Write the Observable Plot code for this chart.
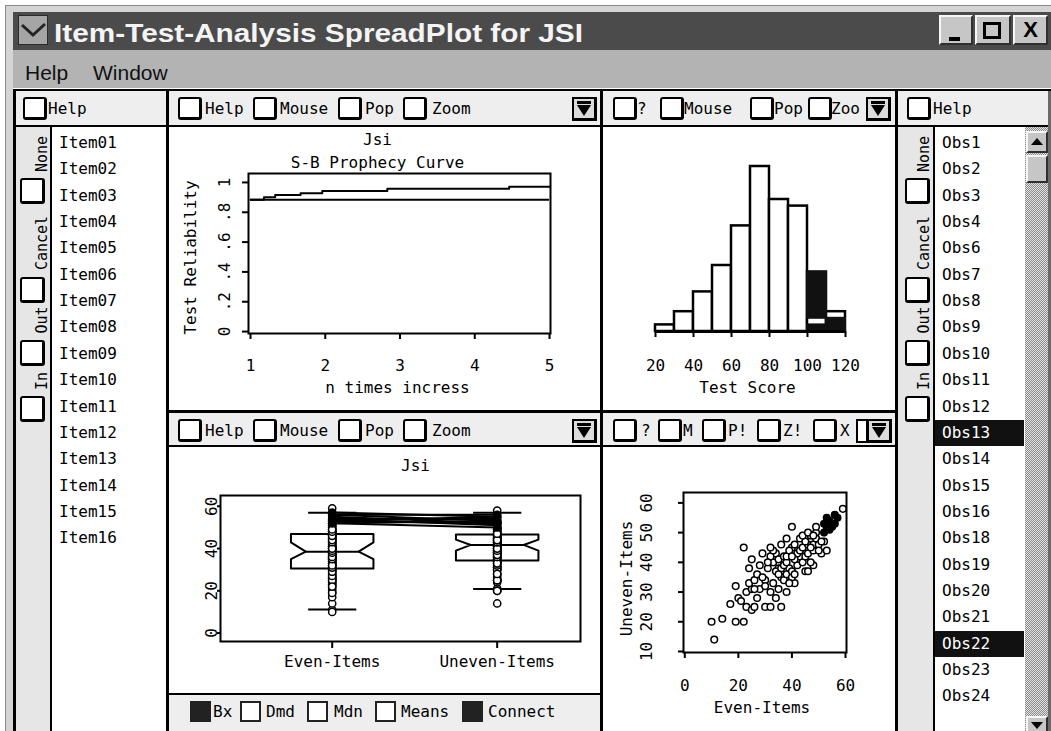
<!DOCTYPE html>
<html><head><meta charset="utf-8">
<script src="https://cdn.jsdelivr.net/npm/d3@7"></script>
<script src="https://cdn.jsdelivr.net/npm/@observablehq/plot@0.6"></script>
<style>
html,body{margin:0;padding:0;}
body{width:1051px;height:731px;overflow:hidden;background:#fff;position:relative;}
#root{position:absolute;left:0;top:0;width:1051px;height:731px;overflow:hidden;}
#root div{box-sizing:border-box;}
</style></head>
<body><div id="root"></div>
<script>
// ---------------- data ----------------
const windowTitle = "Item-Test-Analysis SpreadPlot for JSI";
const menuItems = ["Help", "Window"];
const itemNames = ["Item01","Item02","Item03","Item04","Item05","Item06","Item07","Item08",
  "Item09","Item10","Item11","Item12","Item13","Item14","Item15","Item16"];
const obsNames = ["Obs1","Obs2","Obs3","Obs4","Obs6","Obs7","Obs8","Obs9","Obs10","Obs11","Obs12",
  "Obs13","Obs14","Obs15","Obs16","Obs18","Obs19","Obs20","Obs21","Obs22","Obs23","Obs24"];
const highlightedObs = ["Obs13", "Obs22"];
const stripLabels = ["None", "Cancel", "Out", "In"];
const toolbarTopLeft = ["Help", "Mouse", "Pop", "Zoom"];
const toolbarTopRight = ["?", "Mouse", "Pop", "Zoo"];
const toolbarBottomRight = ["?", "M", "P!", "Z!", "X"];
const boxOptions = ["Bx", "Dmd", "Mdn", "Means", "Connect"];
const boxOptionsOn = [true, false, false, false, true];

const plotTitle = "Jsi";
// Spearman-Brown prophecy curve
const sbSubtitle = "S-B Prophecy Curve";
const sbXLabel = "n times incress";
const sbYLabel = "Test Reliability";
const sbN = [1, 1.18, 1.33, 1.67, 1.96, 2.83, 4.46, 5];
const sbReliability = [0.884, 0.901, 0.915, 0.928, 0.942, 0.957, 0.971, 0.971];
const sbOriginal = 0.884;
const sbXTicks = [1, 2, 3, 4, 5];
const sbYTicks = [0, 0.2, 0.4, 0.6, 0.8, 1];
const sbYTickLabels = ["0", ".2", ".4", ".6", ".8", "1"];

// Histogram of test scores
const histXLabel = "Test Score";
const histBinStart = [20, 30, 40, 50, 60, 70, 80, 90, 100, 110];
const histBinWidth = 10;
const histCounts = [1, 3, 6, 10, 16, 25, 20, 19, 9, 3];
const histSelBin = [100, 100, 110];   // selected (black) pieces
const histSelFrom = [0, 2, 0];
const histSelTo = [1, 9, 2];
const histXTicks = [20, 40, 60, 80, 100, 120];

// Box plot summary
const boxGroups = ["Even-Items", "Uneven-Items"];
const boxQ1 = [30.6, 34.3];
const boxNotchLo = [35.0, 39.0];
const boxMedian = [38.5, 41.7];
const boxNotchHi = [42.9, 44.2];
const boxQ3 = [46.9, 46.6];
const boxWhiskerLo = [11.2, 20.8];
const boxWhiskerHi = [56.9, 56.9];
const boxYTicks = [0, 20, 40, 60];

// Observations: even-items score vs uneven-items score
const evenItems = [
  11,10,14,19,22,17,20,21,23,25,
  19,26,23,27,25,30,32,28,24,26,
  36,26,30,24,25,22,33,35,38,28,
  31,27,29,32,34,30,29,33,34,36,
  35,36,37,41,39,32,31,34,36,38,
  40,33,35,37,39,40,41,32,35,37,
  38,38,36,42,43,42,40,45,46,48,
  38,41,44,39,40,43,45,47,44,41,
  46,40,43,46,47,48,51,53,52,48,
  49,49,45,47,50,44,46,48,50,51,
  49,52,54,53,55,54,52,53,56,56,
  57,59];
const unevenItems = [
  14,20,21,20,20,26,28,27,25,24,
  32,25,30,28,31,25,25,31,33,31,
  25,34,34,38,41,45,33,31,30,39,
  38,36,35,30,28,32,43,40,43,35,
  38,41,34,33,38,42,40,37,38,36,
  35,44,41,39,33,37,36,45,36,42,
  40,42,46,39,42,43,45,37,37,39,
  48,41,40,44,42,44,42,40,45,46,
  43,52,48,46,49,44,43,44,47,46,
  50,48,47,45,46,49,50,49,44,47,
  52,53,54,52,52,51,50,55,53,56,
  55,58];
const selectedIndex = [101,102,103,104,105,106,107,108,109,110];
const scXLabel = "Even-Items";
const scYLabel = "Uneven-Items";
const scXTicks = [0, 20, 40, 60];
const scYTicks = [10, 20, 30, 40, 50, 60];

// ---------------- helpers ----------------
const root = document.getElementById("root");
const MONO = `"DejaVu Sans Mono", monospace`;
function el(x, y, w, h, css, text, parent) {
  const d = document.createElement("div");
  let s = `position:absolute;left:${x}px;top:${y}px;`;
  if (w != null) s += `width:${w}px;`;
  if (h != null) s += `height:${h}px;`;
  d.style.cssText = s + (css || "");
  if (text != null) d.textContent = text;
  (parent || root).appendChild(d);
  return d;
}
function label(x, cy, s, size = 16, css = "") {
  return el(x, cy - 11, null, 22, `line-height:22px;white-space:nowrap;font-family:${MONO};font-size:${size}px;color:#000;${css}`, s);
}
function vlabel(cx, cy, s, size = 15) {
  return el(cx - 60, cy - 10, 120, 20, `line-height:20px;text-align:center;white-space:nowrap;font-family:${MONO};font-size:${size}px;color:#000;transform:rotate(-90deg);`, s);
}
function check(x, y, w = 24, h = 23, fill = "#fff") {
  return el(x, y, w, h, `background:${fill};border:2px solid #000;border-right-width:3px;border-bottom-width:3px;border-radius:3px;`);
}
function dropdown(x, y, w = 25, h = 24) {
  const d = el(x, y, w, h, "background:#dcdcdc;border:2px solid #000;border-right-width:3px;border-bottom-width:3px;");
  el(3, 2, 14, 3, "background:#000;", null, d);
  el(3, 6, 0, 0, "border-left:7px solid transparent;border-right:7px solid transparent;border-top:11px solid #000;", null, d);
  return d;
}
function bevel(x, y, w, h, extra = "") {
  return el(x, y, w, h, "background:#c6c6c6;border-top:2px solid #f6f6f6;border-left:2px solid #f6f6f6;border-right:2px solid #303030;border-bottom:2px solid #303030;" + extra);
}
function rectFill(x, y, w, h, c = "#000") { return el(x, y, w, h, `background:${c}`); }

// ---------------- window chrome ----------------
rectFill(5, 5, 1046, 726, "#d4d4d4");
el(5, 5, 1046, 726, "border-left:1px solid #8a8a8a;border-top:1px solid #8a8a8a;");
rectFill(13, 12, 1038, 38, "#4b4b4b");
const icon = el(18, 15, 30, 30, "background:#a5a5a5;border:1px solid #2a2a2a;");
icon.innerHTML = '<svg width="28" height="28" style="position:absolute;left:0;top:0"><polyline points="3,9 14,19 26,8" fill="none" stroke="#232323" stroke-width="3"/></svg>';
const tt = el(54, 12, 560, 38, "");
tt.innerHTML = '<svg width="560" height="38" style="position:absolute;left:0;top:0"><text x="0" y="30" font-family="Liberation Sans Narrow, Liberation Sans, Arial, sans-serif" font-weight="bold" font-size="26" fill="#f4f4f4" textLength="529" lengthAdjust="spacingAndGlyphs"></text></svg>';
tt.querySelector("text").textContent = windowTitle;
// window buttons
const b1 = bevel(939, 15, 34, 30); el(8, 20, 11, 4, "background:#000", null, b1);
const b2 = bevel(975, 15, 36, 30); el(6, 5, 18, 17, "border:3px solid #000;", null, b2);
const b3 = bevel(1013, 15, 35, 30);
el(0, 0, 31, 26, 'text-align:center;line-height:26px;font:bold 22px "Liberation Sans",Arial,sans-serif;color:#000;', "X", b3);
// menu bar
rectFill(13, 50, 1038, 38, "#b3b3b3");
const mb = el(13, 50, 400, 38, "");
mb.innerHTML = '<svg width="400" height="38" style="position:absolute;left:0;top:0"></svg>';
const mbSvg = mb.querySelector("svg");
const menuX = [12, 80];
menuItems.forEach((m, i) => {
  const t = document.createElementNS("http://www.w3.org/2000/svg", "text");
  t.setAttribute("x", menuX[i]); t.setAttribute("y", 30);
  t.setAttribute("font-family", "Liberation Sans, Arial, sans-serif");
  t.setAttribute("font-size", "21"); t.setAttribute("fill", "#111");
  t.textContent = m; mbSvg.appendChild(t);
});

// panel area
rectFill(13, 88, 1038, 643, "#fff");
rectFill(13, 89, 1038, 2);          // top line
rectFill(13, 89, 3, 642);           // left border
// header bars
rectFill(16, 91, 150, 34, "#eeeeee");
rectFill(169, 91, 431, 34, "#eeeeee");
rectFill(603, 91, 292, 34, "#eeeeee");
rectFill(898, 91, 153, 34, "#eeeeee");
rectFill(13, 125, 1038, 2);
// strips
rectFill(16, 127, 34, 604, "#e6e6e6");
rectFill(50, 127, 2, 604);
rectFill(898, 127, 35, 604, "#e6e6e6");
rectFill(933, 127, 2, 604);
// dividers
rectFill(166, 89, 3, 642);
rectFill(600, 89, 3, 642);
rectFill(895, 89, 3, 642);
// bottom headers
rectFill(169, 412, 726, 34, "#eeeeee");
rectFill(166, 410, 732, 3);
rectFill(166, 445, 732, 2);
rectFill(600, 410, 3, 321);
// box options bar
rectFill(169, 695, 431, 36, "#eeeeee");
rectFill(166, 693, 434, 2);
// scrollbar
el(1025, 127, 23, 604, "background:repeating-conic-gradient(#8c8c8c 0% 25%, #e2e2e2 0% 50%) 0 0/2px 2px;");
rectFill(1048, 91, 3, 640, "#6a6a6a");
const up = bevel(1026, 131, 22, 22);
el(3, 5, 0, 0, "border-left:6px solid transparent;border-right:6px solid transparent;border-bottom:7px solid #000;", null, up);
bevel(1026, 155, 22, 28);
const dn = bevel(1026, 716, 22, 20);
el(3, 4, 0, 0, "border-left:6px solid transparent;border-right:6px solid transparent;border-top:7px solid #000;", null, dn);

// panel header checkboxes
check(23, 97); label(48, 109, "Help");
check(907, 97); label(933, 109, "Help");
const tlCb = [178, 253, 338, 403], tlLb = [205, 280, 365, 432];
toolbarTopLeft.forEach((t, i) => { check(tlCb[i], 97); label(tlLb[i], 109, t); });
dropdown(572, 97);
toolbarTopLeft.forEach((t, i) => { check(tlCb[i], 419); label(tlLb[i], 431, t); });
dropdown(572, 419);
const trCb = [613, 660, 750, 808], trLb = [637, 684, 774, 831];
toolbarTopRight.forEach((t, i) => { check(trCb[i], 97); label(trLb[i], 109, t); });
dropdown(866, 97);
const brCb = [613, 658, 702, 757, 813], brLb = [641, 683, 728, 783, 840];
toolbarBottomRight.forEach((t, i) => { check(brCb[i], 419); label(brLb[i], 431, t); });
el(856, 419, 12, 24, "background:#fff;border:2px solid #000;");
dropdown(867, 419);

// strips: rotated labels + checkboxes
const stripLabelCY = [154, 243, 320, 381];
const stripCheckY = [178, 277, 340, 396];
stripLabels.forEach((s, i) => {
  vlabel(42, stripLabelCY[i], s); check(20, stripCheckY[i], 25, 26);
  vlabel(924, stripLabelCY[i], s); check(905, stripCheckY[i], 25, 26);
});

// lists
const rowStep = 26.35, rowTop = 143;
itemNames.forEach((s, i) => label(59, rowTop + rowStep * i, s));
obsNames.forEach((s, i) => {
  const cy = rowTop + rowStep * i;
  if (highlightedObs.includes(s)) {
    rectFill(935, Math.round(cy - 13), 89, 26, "#111");
    label(942, cy, s, 16, "color:#fff;");
  } else label(942, cy, s);
});

// box options
const optX = [190, 240, 307, 375, 462], optLb = [213, 266, 334, 401, 488];
boxOptions.forEach((s, i) => {
  el(optX[i], 701, 21, 21, `background:${boxOptionsOn[i] ? "#222" : "#fff"};border:2px solid #222;`);
  label(optLb[i], 712, s);
});

// ---------------- plots ----------------
const plotStyle = {fontFamily: MONO, fontSize: "16px", color: "#000", background: "transparent", overflow: "visible"};
function place(svg, x, y) { const d = el(x, y, null, null, ""); d.appendChild(svg); }
const T = {lineAnchor: "middle", textAnchor: "middle"};

// S-B prophecy curve
const sbData = sbN.map((n, i) => ({n, r: sbReliability[i]}));
place(Plot.plot({
  width: 433, height: 283, marginLeft: 82, marginRight: 49, marginTop: 47, marginBottom: 76,
  style: plotStyle,
  x: {domain: [0.973, 5.013]},
  y: {domain: [-0.013, 1.06]},
  marks: [
    Plot.frame({stroke: "#000", strokeWidth: 2}),
    Plot.axisX(sbXTicks, {tickSize: 6, tickPadding: 20, strokeWidth: 2, label: null}),
    Plot.axisY(sbYTicks, {tickSize: 6, tickFormat: () => "", strokeWidth: 2, label: null}),
    Plot.text(sbYTicks, {...T, y: d => d, text: (d, i) => sbYTickLabels[i], frameAnchor: "left", rotate: -90, dx: -24}),
    Plot.text([sbYLabel], {...T, text: d => d, frameAnchor: "left", rotate: -90, dx: -58, dy: 4}),
    Plot.text([plotTitle], {...T, text: d => d, frameAnchor: "top", dx: -22, dy: -34}),
    Plot.text([sbSubtitle], {...T, text: d => d, frameAnchor: "top", dx: -22, dy: -11}),
    Plot.text([sbXLabel], {...T, text: d => d, frameAnchor: "bottom", dx: -2, dy: 54}),
    Plot.ruleY([sbOriginal], {x1: sbN[0], x2: sbN[sbN.length - 1], strokeWidth: 2}),
    Plot.line(sbData, {x: "n", y: "r", curve: "step-after", strokeWidth: 2})
  ]
}), 166, 126);

// Histogram
const histData = histBinStart.map((s, i) => ({x1: s, x2: s + histBinWidth, count: histCounts[i]}));
const histSel = histSelBin.map((b, i) => ({x1: b, x2: b + histBinWidth, y1: histSelFrom[i], y2: histSelTo[i]}));
place(Plot.plot({
  width: 296, height: 283, marginLeft: 53, marginRight: 53, marginTop: 40, marginBottom: 78,
  style: plotStyle,
  x: {domain: [20, 120]},
  y: {domain: [0, 25], axis: null},
  marks: [
    Plot.rect(histData, {x1: "x1", x2: "x2", y1: 0, y2: "count", fill: "#fff", stroke: "#000", strokeWidth: 2.5}),
    Plot.rect(histSel, {x1: "x1", x2: "x2", y1: "y1", y2: "y2", fill: "#111", stroke: "#111", strokeWidth: 2}),
    Plot.ruleY([0], {strokeWidth: 3}),
    Plot.axisX(histXTicks, {tickSize: 6, tickPadding: 22, strokeWidth: 2, label: null}),
    Plot.text([histXLabel], {...T, text: d => d, frameAnchor: "bottom", dx: -3, dy: 56})
  ]
}), 602, 126);

// Box plot
const obsData = evenItems.map((e, i) => ({even: e, uneven: unevenItems[i], sel: selectedIndex.includes(i)}));
const boxPos = [1, 2];
const boxHalf = 0.25, notchInset = 0.09, whiskerHalf = 0.146;
const boxOutline = boxGroups.flatMap((g, i) => {
  const c = boxPos[i], L = c - boxHalf, R = c + boxHalf;
  return [[L, boxQ1[i]], [L, boxNotchLo[i]], [L + notchInset, boxMedian[i]], [L, boxNotchHi[i]], [L, boxQ3[i]],
    [R, boxQ3[i]], [R, boxNotchHi[i]], [R - notchInset, boxMedian[i]], [R, boxNotchLo[i]], [R, boxQ1[i]], [L, boxQ1[i]]]
    .map(([x, y]) => ({g, x, y}));
});
const boxDots = obsData.flatMap(d => [{x: boxPos[0], v: d.even, sel: d.sel}, {x: boxPos[1], v: d.uneven, sel: d.sel}]);
const whiskers = boxGroups.flatMap((g, i) => [
  {c: boxPos[i], v: boxWhiskerLo[i], b: boxQ1[i]}, {c: boxPos[i], v: boxWhiskerHi[i], b: boxQ3[i]}]);
place(Plot.plot({
  width: 433, height: 243, marginLeft: 54, marginRight: 19, marginTop: 47, marginBottom: 50,
  style: plotStyle,
  x: {domain: [0.323, 2.505]},
  y: {domain: [-4.0, 65.1]},
  marks: [
    Plot.frame({stroke: "#000", strokeWidth: 2}),
    Plot.axisX(boxPos, {tickSize: 7, tickPadding: 7, strokeWidth: 2, tickFormat: d => boxGroups[boxPos.indexOf(d)], label: null}),
    Plot.axisY(boxYTicks, {tickSize: 3, tickFormat: () => "", strokeWidth: 2, label: null}),
    Plot.text(boxYTicks, {...T, y: d => d, text: d => String(d), frameAnchor: "left", rotate: -90, dx: -9}),
    Plot.text([plotTitle], {...T, text: d => d, frameAnchor: "top", dx: 15, dy: -30}),
    Plot.line(boxOutline, {x: "x", y: "y", z: "g", strokeWidth: 2}),
    Plot.link(boxGroups, {x1: (g, i) => boxPos[i] - boxHalf + notchInset, x2: (g, i) => boxPos[i] + boxHalf - notchInset,
      y1: (g, i) => boxMedian[i], y2: (g, i) => boxMedian[i], strokeWidth: 2}),
    Plot.link(whiskers, {x1: d => d.c, x2: d => d.c, y1: "b", y2: "v", strokeWidth: 2}),
    Plot.link(whiskers, {x1: d => d.c - whiskerHalf, x2: d => d.c + whiskerHalf, y1: "v", y2: "v", strokeWidth: 2}),
    Plot.link(obsData.filter(d => d.sel), {x1: () => boxPos[0], y1: "even", x2: () => boxPos[1], y2: "uneven", strokeWidth: 2}),
    Plot.dot(boxDots.filter(d => !d.sel), {x: "x", y: "v", r: 3.6, fill: "#fff", stroke: "#000", strokeWidth: 1.5}),
    Plot.dot(boxDots.filter(d => d.sel), {x: "x", y: "v", r: 3.6, fill: "#000", stroke: "#000", strokeWidth: 1.5})
  ]
}), 166, 448);

// Scatter plot
place(Plot.plot({
  width: 296, height: 281, marginLeft: 81, marginRight: 52, marginTop: 44, marginBottom: 77,
  style: plotStyle,
  x: {domain: [-0.48, 60.37]},
  y: {domain: [9.66, 63.5]},
  marks: [
    Plot.frame({stroke: "#000", strokeWidth: 2}),
    Plot.axisX(scXTicks, {tickSize: 6, tickPadding: 21, strokeWidth: 2, label: null}),
    Plot.axisY(scYTicks, {tickSize: 5, tickFormat: () => "", strokeWidth: 2, label: null}),
    Plot.text(scYTicks, {...T, y: d => d, text: d => String(d), frameAnchor: "left", rotate: -90, dx: -37}),
    Plot.text([scYLabel], {...T, text: d => d, frameAnchor: "left", rotate: -90, dx: -57, dy: 6}),
    Plot.text([scXLabel], {...T, text: d => d, frameAnchor: "bottom", dx: -3, dy: 55}),
    Plot.dot(obsData.filter(d => !d.sel), {x: "even", y: "uneven", r: 3.3, fill: "#fff", stroke: "#000", strokeWidth: 1.5}),
    Plot.dot(obsData.filter(d => d.sel), {x: "even", y: "uneven", r: 3.3, fill: "#000", stroke: "#000", strokeWidth: 1.5})
  ]
}), 602, 448);
</script>
</body></html>
